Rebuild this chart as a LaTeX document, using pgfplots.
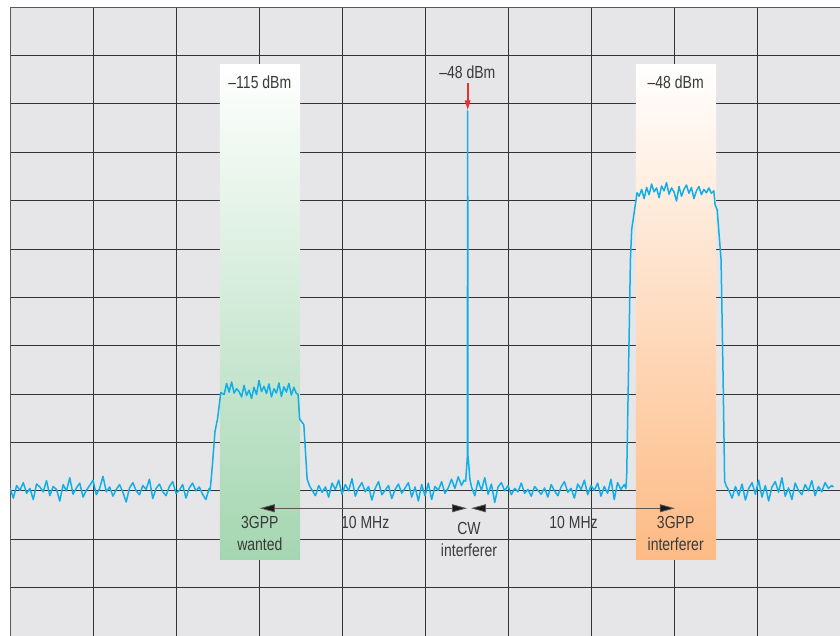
\documentclass[border=0pt]{standalone}
\usepackage{pgfplots}
\pgfplotsset{compat=1.18}
\usepackage{fontspec}
\setmainfont{Liberation Sans}[FakeStretch=0.8]
\usetikzlibrary{arrows.meta}
\definecolor{bg}{HTML}{E6E6E8}
\definecolor{trace}{HTML}{12AEE8}
\definecolor{wantgreen}{HTML}{A4D6B1}
\definecolor{intorange}{HTML}{FDBA84}
\definecolor{txt}{HTML}{3A3A3A}
\definecolor{markred}{HTML}{E8302E}
\tikzset{lbl/.style={text=txt, font=\fontsize{17.5}{20}\selectfont}}
\begin{document}
\begin{tikzpicture}
\begin{axis}[
  scale only axis,
  width=830pt, height=629pt,
  xmin=0, xmax=10, ymin=0, ymax=13,
  xtick={0,...,10}, ytick={0,...,13},
  xticklabels={}, yticklabels={},
  major tick length=0pt,
  grid=major,
  grid style={black!80, line width=0.8pt},
  axis line style={black!65, line width=0.8pt},
  axis background/.style={fill=bg},
]
% shaded channel boxes
\shade[bottom color=wantgreen, top color=white] (axis cs:2.53,1.59) rectangle (axis cs:3.494,11.82);
\shade[bottom color=intorange, top color=white] (axis cs:7.54,1.59) rectangle (axis cs:8.506,11.82);

% spectrum trace
\addplot[trace, line width=1.5pt, line join=round] coordinates {
(0.00,3.06)(0.04,2.85)(0.08,3.11)(0.12,3.01)(0.16,3.17)(0.20,2.95)(0.24,3.05)(0.28,2.82)
(0.32,3.14)(0.36,3.08)(0.40,2.98)(0.44,3.21)(0.48,2.90)(0.52,3.09)(0.56,3.03)(0.60,2.79)
(0.64,3.13)(0.68,3.00)(0.72,3.27)(0.76,2.93)(0.80,3.06)(0.84,3.16)(0.88,2.87)(0.92,3.01)
(0.96,3.11)(1.00,3.22)(1.04,2.92)(1.08,3.05)(1.12,3.30)(1.16,2.98)(1.20,3.08)(1.24,2.89)
(1.28,3.03)(1.32,3.13)(1.36,2.97)(1.40,2.77)(1.44,3.06)(1.48,3.17)(1.52,3.00)(1.56,2.92)
(1.60,3.11)(1.64,3.03)(1.68,3.24)(1.72,2.84)(1.76,3.05)(1.80,3.14)(1.84,2.98)(1.88,2.90)
(1.92,3.09)(1.96,3.19)(2.00,2.95)(2.04,3.01)(2.08,3.13)(2.12,2.85)(2.16,3.06)(2.20,3.16)
(2.24,3.00)(2.28,3.08)(2.32,2.93)(2.36,2.82)(2.40,3.05)
(2.41,3.00)(2.43,3.35)(2.47,4.23)(2.50,4.48)(2.54,5.03)
(2.58,4.99)(2.61,5.22)(2.64,5.04)(2.67,5.25)(2.70,5.02)(2.73,5.11)(2.76,5.05)(2.79,4.94)
(2.82,5.18)(2.85,4.97)(2.88,5.08)(2.91,4.91)(2.94,5.14)(2.97,4.99)(3.00,5.28)(3.03,5.05)
(3.06,5.16)(3.09,5.01)(3.12,5.21)(3.15,4.94)(3.18,5.11)(3.21,5.02)(3.24,5.23)(3.27,4.95)
(3.30,5.15)(3.33,5.04)(3.36,5.22)(3.39,4.98)(3.42,5.14)(3.45,5.01)
(3.47,5.00)(3.49,4.48)(3.54,4.37)(3.58,3.24)(3.61,3.10)
(3.64,3.01)(3.68,2.90)(3.72,3.11)(3.76,2.97)(3.80,3.08)(3.84,2.87)(3.88,3.16)(3.92,3.03)
(3.96,3.22)(4.00,2.93)(4.04,3.13)(4.08,3.00)(4.12,3.25)(4.16,2.89)(4.20,3.06)(4.24,3.17)
(4.28,2.98)(4.32,3.09)(4.36,2.81)(4.40,3.05)(4.44,3.19)(4.48,2.92)(4.52,3.01)(4.56,3.11)
(4.60,2.84)(4.64,3.03)(4.68,3.14)(4.72,2.95)(4.76,3.06)(4.80,3.17)(4.84,2.87)(4.88,3.08)
(4.92,2.79)(4.96,3.13)(5.00,2.90)(5.04,3.16)(5.08,2.82)(5.12,3.09)(5.16,3.01)(5.20,3.19)
(5.24,2.95)(5.28,3.06)(5.32,3.24)(5.36,3.05)(5.40,3.29)(5.44,3.11)
(5.47,3.22)(5.49,3.20)(5.50,3.45)(5.510,3.70)(5.514,10.85)(5.518,3.70)(5.525,3.60)
(5.54,3.25)(5.56,3.08)
(5.60,2.90)(5.64,3.21)(5.68,3.01)(5.72,3.27)(5.76,2.93)(5.80,3.14)(5.84,2.76)(5.88,3.08)
(5.92,3.17)(5.96,3.00)(6.00,3.11)(6.04,2.92)(6.08,3.05)(6.12,2.98)(6.16,3.16)(6.20,2.95)
(6.24,3.03)(6.28,2.89)(6.32,3.09)(6.36,3.01)(6.40,2.93)(6.44,3.06)(6.48,2.87)(6.52,3.13)
(6.56,3.00)(6.60,2.90)(6.64,3.08)(6.68,3.19)(6.72,2.97)(6.76,3.05)(6.80,2.85)(6.84,3.14)
(6.88,3.03)(6.92,3.22)(6.96,2.92)(7.00,3.11)(7.04,3.01)(7.08,3.16)(7.12,2.89)(7.16,3.09)
(7.20,2.95)(7.24,3.24)(7.28,2.82)(7.32,3.17)(7.36,3.03)(7.40,3.13)
(7.42,3.05)(7.43,3.30)(7.475,7.78)(7.49,8.40)(7.555,9.16)
(7.58,9.09)(7.61,9.23)(7.64,9.04)(7.67,9.27)(7.70,9.12)(7.73,9.34)(7.76,9.18)(7.79,9.26)
(7.82,9.06)(7.85,9.30)(7.88,9.20)(7.91,9.37)(7.94,9.13)(7.97,9.26)(8.00,9.18)(8.03,8.99)
(8.06,9.29)(8.09,9.09)(8.12,9.23)(8.15,9.32)(8.18,9.15)(8.21,9.27)(8.24,9.04)(8.27,9.20)
(8.30,9.29)(8.33,9.12)(8.36,9.23)(8.39,9.16)(8.42,9.26)(8.45,9.15)(8.48,9.20)
(8.495,8.91)(8.52,8.81)(8.567,7.78)(8.59,5.50)(8.61,3.20)(8.63,3.10)
(8.66,3.01)(8.70,2.85)(8.74,3.09)(8.78,2.90)(8.82,3.14)(8.86,2.81)(8.90,3.05)(8.94,3.17)
(8.98,2.93)(9.02,3.22)(9.06,2.87)(9.10,3.11)(9.14,2.79)(9.18,3.08)(9.22,3.19)(9.26,2.97)
(9.30,3.27)(9.34,2.89)(9.38,3.06)(9.42,2.82)(9.46,3.16)(9.50,3.01)(9.54,2.92)(9.58,3.13)
(9.62,3.00)(9.66,3.21)(9.70,2.90)(9.74,3.09)(9.78,2.98)(9.82,3.17)(9.86,3.05)(9.90,3.11)
(9.92,3.08)
};

% level labels
\node[lbl] at (axis cs:3.01,11.45) {–115 dBm};
\node[lbl] at (axis cs:5.51,11.66) {–48 dBm};
\node[lbl] at (axis cs:8.02,11.45) {–48 dBm};
\draw[draw=markred, line width=1.8pt] (axis cs:5.514,11.43) -- (axis cs:5.514,11.0);
\fill[markred] (axis cs:5.514,10.88) -- (axis cs:5.478,11.07) -- (axis cs:5.550,11.07) -- cycle;

% spacing arrows
\draw[black!65, line width=0.8pt, {Triangle[length=15pt,width=8pt,fill=black!90]}-{Triangle[length=15pt,width=8pt,fill=black!90]}] (axis cs:3.01,2.64) -- (axis cs:5.506,2.64);
\draw[black!65, line width=0.8pt, {Triangle[length=15pt,width=8pt,fill=black!90]}-{Triangle[length=15pt,width=8pt,fill=black!90]}] (axis cs:5.554,2.64) -- (axis cs:8.01,2.64);

\node[lbl] at (axis cs:4.28,2.35) {10 MHz};
\node[lbl] at (axis cs:6.79,2.35) {10 MHz};
\node[lbl] at (axis cs:3.01,2.35) {3GPP};
\node[lbl] at (axis cs:3.01,1.90) {wanted};
\node[lbl] at (axis cs:5.53,2.23) {CW};
\node[lbl] at (axis cs:5.53,1.77) {interferer};
\node[lbl] at (axis cs:8.02,2.35) {3GPP};
\node[lbl] at (axis cs:8.02,1.90) {interferer};
\end{axis}
\pgfresetboundingbox
\path[use as bounding box] (-10pt,0pt) rectangle (830pt,636pt);
\end{tikzpicture}
\end{document}
